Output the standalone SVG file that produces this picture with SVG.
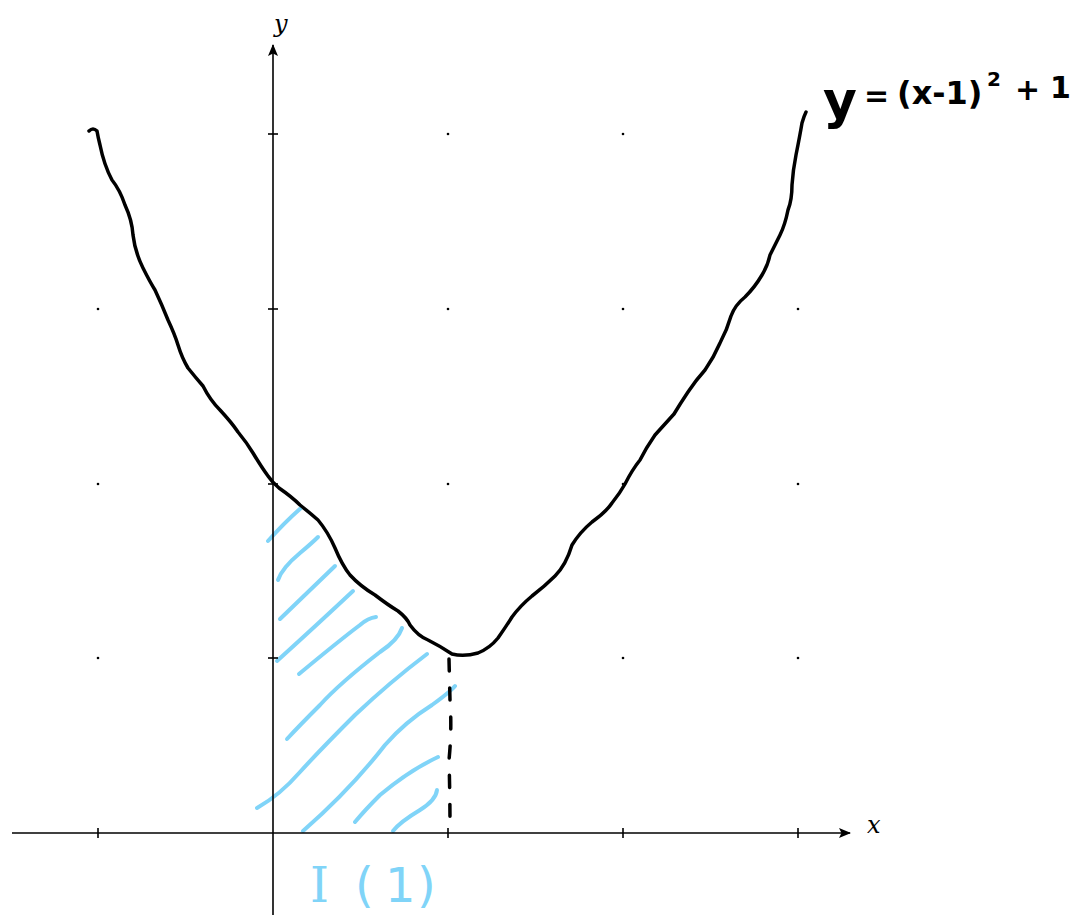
<svg xmlns="http://www.w3.org/2000/svg" width="1072" height="915" viewBox="0 0 1072 915">
<style>
.axis{stroke:#000;stroke-width:1.6;fill:none}
.tick{stroke:#000;stroke-width:1.6}
.dot{fill:#000}
.curve{stroke:#000;stroke-width:3.5;fill:none;stroke-linecap:round;stroke-linejoin:round}
.hatch{stroke:#80d4f8;stroke-width:4;fill:none;stroke-linecap:round}
.dash{stroke:#000;stroke-width:3.5;fill:none;stroke-linecap:round;stroke-dasharray:12 17}
.lbl{font-family:"DejaVu Serif","Liberation Serif",serif;font-style:italic;font-size:24px;fill:#000}
.hand{font-family:"DejaVu Sans","Noto Sans",sans-serif}
</style>
<defs>
<marker id="arr" viewBox="0 0 12 10" refX="11" refY="5" markerWidth="12" markerHeight="10" markerUnits="userSpaceOnUse" orient="auto">
<path d="M0,0 L12,5 L0,10 L2.5,5 Z" fill="#000"/>
</marker>
</defs>
<g id="grid">
<circle class="dot" cx="448" cy="134" r="1.3"/><circle class="dot" cx="623" cy="134" r="1.3"/>
<circle class="dot" cx="98" cy="309" r="1.3"/><circle class="dot" cx="448" cy="309" r="1.3"/><circle class="dot" cx="623" cy="309" r="1.3"/><circle class="dot" cx="798" cy="309" r="1.3"/>
<circle class="dot" cx="98" cy="484" r="1.3"/><circle class="dot" cx="448" cy="484" r="1.3"/><circle class="dot" cx="623" cy="484" r="1.3"/><circle class="dot" cx="798" cy="484" r="1.3"/>
<circle class="dot" cx="98" cy="658" r="1.3"/><circle class="dot" cx="623" cy="658" r="1.3"/><circle class="dot" cx="798" cy="658" r="1.3"/>
</g>
<g id="hatching">
<path class="hatch" d="M268,541 Q285,522 301,508"/>
<path class="hatch" d="M278,580 Q282,568 300,553 Q312,543 318,537"/>
<path class="hatch" d="M280,619 Q310,590 335,566"/>
<path class="hatch" d="M277,661 Q320,622 353,591"/>
<path class="hatch" d="M299,674 Q340,640 360,625 Q368,618 376,617"/>
<path class="hatch" d="M402,628 Q398,640 380,652 Q340,683 320,705 Q300,725 287,739"/>
<path class="hatch" d="M427,654 Q390,682 355,715 Q320,750 300,772 Q280,795 257,808"/>
<path class="hatch" d="M455,686 Q450,692 432,705 Q405,722 385,745 Q350,790 303,831"/>
<path class="hatch" d="M438,757 Q410,770 380,795 Q365,810 355,822"/>
<path class="hatch" d="M437,790 Q436,800 420,810 Q400,822 393,831"/>
</g>
<g id="axes">
<line class="axis" x1="12" y1="833" x2="850" y2="833" marker-end="url(#arr)"/>
<line class="axis" x1="273" y1="915" x2="273" y2="45" marker-end="url(#arr)"/>
<line class="tick" x1="98" y1="828" x2="98" y2="838"/>
<line class="tick" x1="448" y1="828" x2="448" y2="838"/>
<line class="tick" x1="623" y1="828" x2="623" y2="838"/>
<line class="tick" x1="798" y1="828" x2="798" y2="838"/>
<line class="tick" x1="268" y1="658" x2="278" y2="658"/>
<line class="tick" x1="268" y1="484" x2="278" y2="484"/>
<line class="tick" x1="268" y1="309" x2="278" y2="309"/>
<line class="tick" x1="268" y1="134" x2="278" y2="134"/>
<text class="lbl" x="274" y="32">y</text>
<text class="lbl" x="867" y="833">x</text>
</g>
<g id="curve">
<path class="curve" d="M89,131 Q93,127 97,131 Q98,137 100,145 Q104,165 112,180 Q120,190 125,205 Q132,220 133,235 Q135,252 143,268 Q150,282 155,290 Q162,305 168,320 Q175,335 178,345 Q182,358 188,368 Q196,378 203,386 Q210,400 220,410 Q232,423 238,432 Q247,443 253,453 Q262,468 268,476 Q272,482 279,488 Q292,497 300,505 Q310,513 318,520 Q328,532 335,548 Q342,565 350,575 Q360,586 375,595 Q388,605 398,611 Q407,618 410,625 Q418,636 428,640 Q440,646 452,654 Q464,657 478,653 Q490,648 498,638 Q505,628 512,617 Q520,606 532,596 Q545,586 555,576 Q566,565 572,545 Q580,532 592,522 Q606,512 612,503 Q620,493 625,484 Q632,470 640,460 Q646,448 655,435 Q665,424 674,414 Q680,404 688,392 Q696,380 705,370 Q714,357 720,343 Q727,330 731,316 Q735,305 745,297 Q755,287 762,275 Q768,265 770,255 Q776,243 780,235 Q785,225 788,210 Q792,200 792,185 Q793,170 796,155 Q800,135 802,123 Q804,116 806,112"/>
<path class="dash" d="M449,659 L450,700 Q452,730 449,760 Q450,795 450,828"/>
</g>
<g id="equation" class="hand" fill="#000" font-weight="bold">
<text x="823" y="118" font-size="52">y</text>
<text x="864" y="106" font-size="30">=</text>
<text x="897" y="104" font-size="32">(x-1)</text>
<text x="987" y="86" font-size="20">2</text>
<text x="1015" y="100" font-size="30">+</text>
<text x="1050" y="98" font-size="30">1</text>
</g>
<g id="label" class="hand" fill="#80d4f8" font-size="48">
<text x="310" y="902" font-family="DejaVu Serif, serif">I</text>
<text x="355" y="902">(</text>
<text x="385" y="902">1</text>
<text x="417" y="902">)</text>
</g>
</svg>
